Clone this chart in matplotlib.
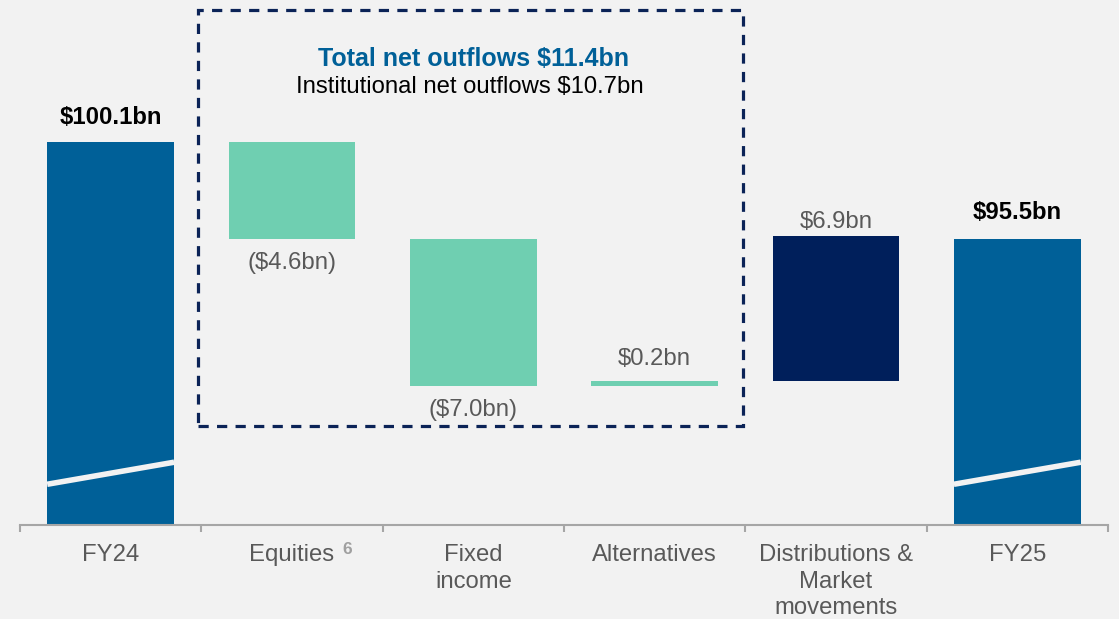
import matplotlib.pyplot as plt
import numpy as np
from matplotlib.patches import Rectangle

plt.rcParams['font.family'] = ['Liberation Sans', 'DejaVu Sans']

# data (US$bn)
categories = ["FY24", "Equities", "Fixed\nincome", "Alternatives",
              "Distributions &\nMarket\nmovements", "FY25"]
start_val = 100.1
end_val = 95.5
deltas = [-4.6, -7.0, 0.2, 6.9]
value_labels = ["$100.1bn", "($4.6bn)", "($7.0bn)", "$0.2bn", "$6.9bn", "$95.5bn"]
box_title = "Total net outflows $11.4bn"
box_sub = "Institutional net outflows $10.7bn"

y_base = 81.86   # broken axis: visible floor
y_top = 106.86

bg = "#f2f2f2"
c_total = "#006098"
c_flow = "#6fcfb1"
c_dist = "#001f5b"
c_gray = "#595959"
fs = 17.2

fig = plt.figure(figsize=(11.19, 6.19), dpi=100, facecolor=bg)
ax = fig.add_axes([20 / 1119, 94 / 619, 1088 / 1119, 525 / 619])
ax.set_facecolor(bg)

x = np.arange(len(categories))
w = 0.70

# waterfall geometry
cum = start_val
bottoms, heights = [y_base], [start_val - y_base]
for d in deltas:
    new = cum + d
    bottoms.append(min(cum, new))
    heights.append(abs(d))
    cum = new
bottoms.append(y_base)
heights.append(end_val - y_base)
colors = [c_total, c_flow, c_flow, c_flow, c_dist, c_total]

ax.bar(x, heights, bottom=bottoms, width=w, color=colors, linewidth=0, zorder=2)

# axis-break slashes on total bars
for i in (0, len(categories) - 1):
    ax.plot([i - w / 2, i + w / 2], [83.8, 84.85], color=bg, lw=4, solid_capstyle='butt', zorder=3)

# value labels
above = [True, False, False, True, True, True]
offs = [9.5, 10, 10, 8, 2.5, 10.5]
bold = [True, False, False, False, False, True]
for i in range(len(categories)):
    top = bottoms[i] + heights[i]
    if above[i]:
        ax.annotate(value_labels[i], (x[i], top), xytext=(0, offs[i]), textcoords='offset points',
                    ha='center', va='bottom', fontsize=fs,
                    fontweight='bold' if bold[i] else 'normal',
                    color='black' if bold[i] else c_gray)
    else:
        ax.annotate(value_labels[i], (x[i], bottoms[i]), xytext=(0, -offs[i]), textcoords='offset points',
                    ha='center', va='top', fontsize=fs, color=c_gray)

# dashed box around net flows
box = Rectangle((0.483, 86.57), 3.489 - 0.483, 106.38 - 86.57, fill=False,
                edgecolor="#0b2357", lw=2.3, linestyle=(0, (3.2, 2.6)), zorder=4, clip_on=False)
ax.add_patch(box)
ax.text(2.0, 104.05, box_title, ha='center', va='center', fontsize=18,
        fontweight='bold', color=c_total)
ax.text(1.98, 102.7, box_sub, ha='center', va='center', fontsize=fs, color='black')

# axes styling
ax.set_xlim(-0.5, len(categories) - 0.5)
ax.set_ylim(y_base, y_top)
for s in ['top', 'right', 'left']:
    ax.spines[s].set_visible(False)
ax.spines['bottom'].set_color("#a6a6a6")
ax.spines['bottom'].set_linewidth(1.5)
ax.set_yticks([])
ax.set_xticks(np.arange(-0.5, len(categories), 1.0))
ax.set_xticklabels([])
ax.tick_params(axis='x', which='major', length=5, width=1.5, color="#a6a6a6")
ax.set_xticks(x, minor=True)
ax.set_xticklabels(categories, minor=True, fontsize=fs, color=c_gray, linespacing=1.28)
ax.tick_params(axis='x', which='minor', length=0, pad=13.5)

# footnote marker on Equities
ax.annotate("6", (1, y_base), xytext=(36, -12), textcoords='offset points',
            ha='left', va='top', fontsize=12.5, fontweight='bold', color="#a0a0a0",
            annotation_clip=False)

fig.savefig("out.png", dpi=100, facecolor=bg)
